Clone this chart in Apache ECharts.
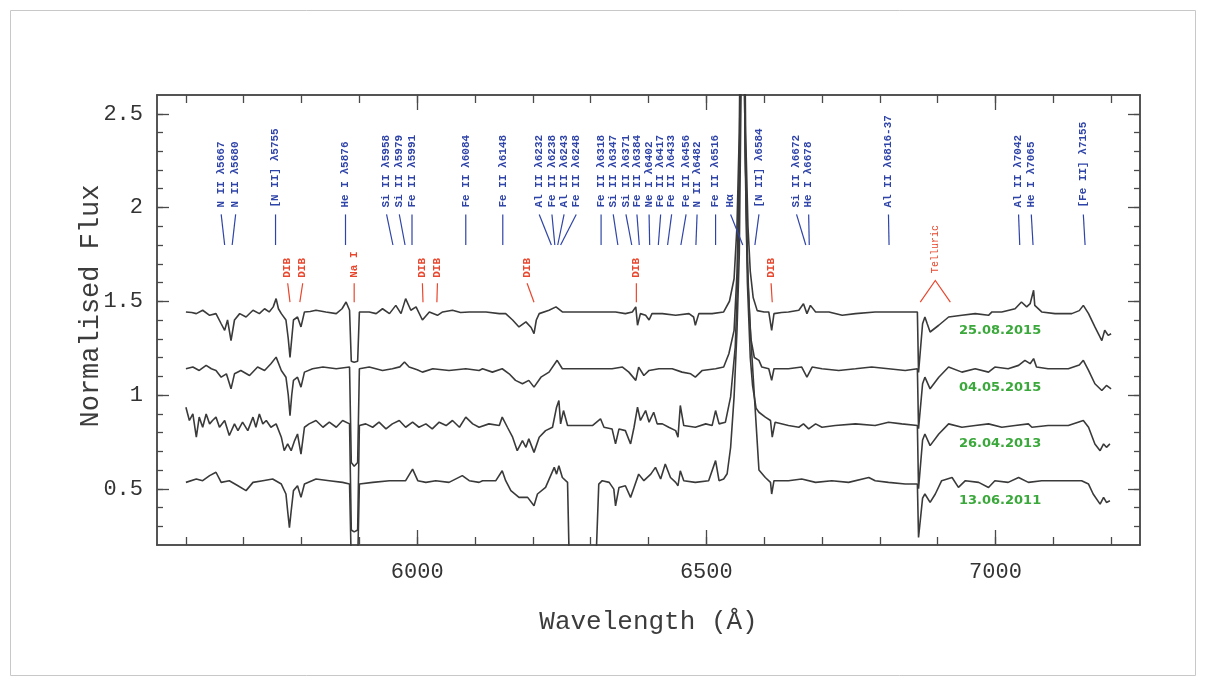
<!DOCTYPE html>
<html>
<head>
<meta charset="utf-8">
<script src="https://cdn.jsdelivr.net/npm/echarts@6/dist/echarts.min.js"></script>
<style>
  html, body { margin: 0; padding: 0; background: #ffffff; }
  #chart { width: 1206px; height: 684px; }
</style>
</head>
<body>
<div id="chart"></div>
<script>
// Optical spectra at four epochs, vertically offset; points are [wavelength (Å), normalised flux]
const epochDates = ['25.08.2015', '04.05.2015', '26.04.2013', '13.06.2011'];

const flux20150825 = [
  [5600,1.443],[5610,1.440],[5618,1.434],[5629,1.452],[5641,1.425],[5652,1.434],[5661,1.380],[5667,1.345],
  [5672,1.400],[5678,1.290],[5684,1.400],[5693,1.434],[5704,1.416],[5716,1.452],[5727,1.434],[5736,1.460],
  [5744,1.443],[5751,1.470],[5756,1.514],[5760,1.460],[5765,1.434],[5773,1.400],[5777,1.300],[5780,1.200],
  [5783,1.300],[5786,1.400],[5793,1.416],[5799,1.363],[5805,1.443],[5815,1.445],[5825,1.452],[5842,1.443],
  [5860,1.434],[5870,1.460],[5877,1.496],[5883,1.452],[5886,1.180],[5891,1.175],[5897,1.180],[5900,1.443],
  [5917,1.443],[5929,1.434],[5940,1.460],[5952,1.434],[5963,1.478],[5972,1.434],[5980,1.514],[5989,1.452],
  [5998,1.470],[6009,1.400],[6021,1.443],[6035,1.425],[6044,1.443],[6061,1.452],[6075,1.440],[6090,1.443],
  [6107,1.443],[6119,1.443],[6142,1.434],[6153,1.434],[6165,1.400],[6176,1.363],[6188,1.390],[6197,1.360],
  [6202,1.327],[6206,1.400],[6211,1.434],[6228,1.452],[6240,1.470],[6251,1.443],[6274,1.443],[6309,1.443],
  [6343,1.443],[6360,1.434],[6372,1.443],[6378,1.470],[6381,1.372],[6386,1.434],[6395,1.425],[6401,1.400],
  [6406,1.434],[6424,1.434],[6447,1.425],[6470,1.434],[6478,1.416],[6481,1.372],[6487,1.434],[6510,1.434],
  [6530,1.443],[6540,1.500],[6548,1.620],[6553,1.900],[6557,2.400],[6560,3.400],[6562.5,6.0],[6565,3.400],
  [6568,2.400],[6572,1.900],[6576,1.660],[6581,1.520],[6588,1.450],[6600,1.443],[6608,1.443],[6613,1.345],
  [6617,1.434],[6630,1.440],[6642,1.443],[6660,1.452],[6668,1.487],[6674,1.434],[6680,1.478],[6689,1.443],
  [6712,1.443],[6735,1.425],[6758,1.434],[6792,1.443],[6827,1.443],[6850,1.443],[6865,1.443],[6867,1.120],
  [6870,1.120],[6874,1.380],[6878,1.416],[6882,1.380],[6887,1.336],[6902,1.372],[6919,1.416],[6942,1.425],
  [6965,1.434],[6988,1.425],[6994,1.443],[7011,1.443],[7034,1.460],[7045,1.496],[7054,1.470],[7060,1.487],
  [7066,1.559],[7068,1.478],[7080,1.443],[7103,1.434],[7132,1.434],[7145,1.450],[7152,1.478],[7161,1.434],
  [7172,1.363],[7184,1.290],[7189,1.345],[7195,1.318],[7200,1.327]
];

const flux20150504 = [
  [5600,1.140],[5612,1.149],[5623,1.131],[5635,1.158],[5644,1.140],[5652,1.131],[5661,1.095],[5670,1.113],
  [5678,1.033],[5684,1.113],[5695,1.131],[5710,1.104],[5724,1.149],[5736,1.131],[5747,1.167],[5756,1.202],
  [5765,1.131],[5773,1.095],[5777,1.000],[5780,0.890],[5783,1.000],[5786,1.078],[5793,1.095],[5799,1.042],
  [5805,1.122],[5819,1.140],[5837,1.149],[5860,1.140],[5883,1.149],[5886,0.640],[5891,0.620],[5897,0.640],
  [5900,1.140],[5917,1.149],[5940,1.131],[5957,1.140],[5970,1.150],[5978,1.176],[5986,1.149],[6000,1.135],
  [6009,1.122],[6027,1.140],[6055,1.131],[6084,1.140],[6107,1.131],[6113,1.140],[6130,1.122],[6147,1.140],
  [6159,1.113],[6170,1.078],[6182,1.060],[6193,1.078],[6202,1.042],[6214,1.095],[6228,1.122],[6242,1.185],
  [6251,1.140],[6274,1.140],[6309,1.140],[6337,1.140],[6355,1.149],[6366,1.122],[6378,1.078],[6383,1.149],
  [6392,1.104],[6401,1.131],[6418,1.140],[6441,1.140],[6458,1.122],[6473,1.113],[6481,1.095],[6493,1.131],
  [6516,1.140],[6530,1.149],[6539,1.220],[6548,1.345],[6553,1.650],[6557,2.200],[6560,3.200],[6562.5,6.0],
  [6565,3.200],[6568,2.200],[6572,1.600],[6577,1.300],[6583,1.200],[6591,1.185],[6596,1.149],[6608,1.140],
  [6613,1.078],[6617,1.140],[6642,1.140],[6665,1.149],[6674,1.095],[6683,1.149],[6700,1.140],[6729,1.131],
  [6758,1.140],[6786,1.149],[6815,1.140],[6844,1.131],[6865,1.140],[6867,0.820],[6870,0.820],[6874,1.060],
  [6878,1.095],[6887,1.033],[6902,1.095],[6919,1.149],[6942,1.122],[6965,1.140],[6988,1.122],[6999,1.149],
  [7022,1.140],[7040,1.158],[7051,1.185],[7060,1.167],[7066,1.194],[7071,1.149],[7091,1.140],[7126,1.140],
  [7145,1.160],[7152,1.185],[7161,1.131],[7172,1.060],[7184,1.024],[7192,1.051],[7200,1.033]
];

const flux20130426 = [
  [5600,0.935],[5606,0.864],[5612,0.899],[5618,0.775],[5623,0.882],[5629,0.828],[5635,0.899],[5641,0.846],
  [5646,0.864],[5652,0.882],[5658,0.828],[5667,0.864],[5675,0.784],[5684,0.846],[5690,0.810],[5698,0.855],
  [5707,0.810],[5716,0.882],[5721,0.828],[5727,0.899],[5733,0.846],[5739,0.864],[5747,0.828],[5756,0.846],
  [5765,0.775],[5770,0.703],[5776,0.739],[5782,0.703],[5788,0.757],[5793,0.792],[5799,0.685],[5805,0.828],
  [5813,0.846],[5825,0.864],[5837,0.828],[5848,0.855],[5860,0.828],[5871,0.864],[5883,0.846],[5886,0.280],
  [5891,0.270],[5897,0.280],[5900,0.837],[5911,0.846],[5923,0.828],[5934,0.855],[5946,0.819],[5957,0.846],
  [5969,0.864],[5980,0.828],[5992,0.855],[6003,0.828],[6015,0.846],[6026,0.819],[6038,0.855],[6050,0.837],
  [6061,0.864],[6073,0.828],[6084,0.882],[6096,0.846],[6107,0.828],[6124,0.846],[6142,0.837],[6147,0.882],
  [6156,0.828],[6165,0.775],[6173,0.703],[6182,0.757],[6188,0.721],[6193,0.766],[6202,0.694],[6211,0.775],
  [6222,0.810],[6234,0.828],[6241,0.935],[6245,0.971],[6248,0.846],[6253,0.917],[6260,0.837],[6274,0.837],
  [6303,0.837],[6317,0.873],[6323,0.828],[6337,0.819],[6343,0.739],[6349,0.819],[6360,0.810],[6369,0.739],
  [6375,0.828],[6381,0.935],[6386,0.864],[6395,0.917],[6401,0.855],[6409,0.908],[6415,0.846],[6424,0.846],
  [6435,0.828],[6447,0.810],[6451,0.775],[6455,0.944],[6461,0.837],[6481,0.828],[6499,0.846],[6510,0.837],
  [6516,0.917],[6522,0.846],[6533,0.855],[6542,0.990],[6550,1.256],[6554,1.600],[6558,2.300],[6561,3.500],
  [6562.5,6.0],[6564,3.500],[6567,2.300],[6571,1.600],[6576,1.200],[6580,1.050],[6586,0.930],[6591,0.908],
  [6602,0.882],[6611,0.864],[6614,0.775],[6619,0.855],[6642,0.837],[6660,0.828],[6668,0.846],[6677,0.819],
  [6689,0.846],[6700,0.828],[6723,0.837],[6758,0.846],[6792,0.837],[6815,0.855],[6838,0.846],[6865,0.837],
  [6867,0.500],[6870,0.500],[6874,0.760],[6878,0.792],[6887,0.730],[6902,0.792],[6919,0.846],[6942,0.828],
  [6965,0.837],[6988,0.846],[7011,0.828],[7034,0.837],[7057,0.846],[7063,0.828],[7091,0.837],[7126,0.837],
  [7152,0.864],[7161,0.828],[7172,0.739],[7181,0.703],[7187,0.739],[7192,0.721],[7198,0.739]
];

const flux20110613 = [
  [5600,0.534],[5618,0.552],[5629,0.543],[5641,0.570],[5652,0.588],[5661,0.534],[5675,0.543],[5690,0.516],
  [5704,0.490],[5716,0.534],[5733,0.543],[5750,0.552],[5765,0.525],[5773,0.472],[5776,0.380],[5779,0.293],
  [5782,0.380],[5786,0.490],[5793,0.516],[5799,0.454],[5805,0.525],[5825,0.552],[5848,0.543],[5871,0.534],
  [5883,0.525],[5886,0.100],[5897,0.100],[5900,0.525],[5923,0.534],[5952,0.543],[5980,0.543],[5992,0.605],
  [6001,0.543],[6015,0.534],[6032,0.543],[6055,0.534],[6078,0.570],[6090,0.543],[6107,0.534],[6113,0.543],
  [6136,0.543],[6147,0.596],[6153,0.543],[6162,0.490],[6176,0.454],[6191,0.454],[6202,0.409],[6208,0.472],
  [6222,0.507],[6237,0.614],[6241,0.578],[6245,0.623],[6251,0.560],[6260,0.534],[6263,0.100],[6265,0.000],
  [6306,0.000],[6309,0.100],[6314,0.525],[6320,0.543],[6332,0.534],[6340,0.498],[6343,0.409],[6349,0.507],
  [6360,0.516],[6369,0.454],[6375,0.507],[6383,0.578],[6392,0.543],[6404,0.578],[6412,0.614],[6421,0.552],
  [6429,0.632],[6438,0.560],[6447,0.534],[6451,0.516],[6455,0.596],[6461,0.543],[6481,0.534],[6504,0.543],
  [6516,0.650],[6522,0.543],[6530,0.552],[6536,0.580],[6542,0.720],[6548,0.990],[6553,1.340],[6557,1.750],
  [6560,2.600],[6563,6.0],[6566,2.600],[6570,1.800],[6575,1.400],[6579,1.200],[6585,0.900],[6591,0.600],
  [6602,0.560],[6611,0.534],[6613,0.472],[6617,0.543],[6642,0.543],[6665,0.552],[6689,0.534],[6717,0.543],
  [6746,0.534],[6781,0.560],[6792,0.543],[6815,0.534],[6844,0.525],[6865,0.525],[6867,0.240],[6870,0.240],
  [6874,0.450],[6878,0.472],[6887,0.427],[6896,0.472],[6907,0.543],[6925,0.560],[6936,0.507],[6948,0.543],
  [6971,0.534],[6988,0.507],[6999,0.543],[7022,0.534],[7040,0.560],[7057,0.534],[7080,0.543],[7115,0.543],
  [7149,0.543],[7161,0.525],[7169,0.472],[7181,0.418],[7187,0.454],[7192,0.427],[7198,0.436]
];

// Anchor of each epoch's date tag [Å, flux]
const epochLabelPos = [[7008, 1.345], [7008, 1.040], [7008, 0.741], [7008, 0.436]];

// Stellar line identifications: label, label column (Å), rest wavelength (Å)
const lineIdText = [
  'N II λ5667', 'N II λ5680', '[N II] λ5755', 'He I λ5876', 'Si II λ5958', 'Si II λ5979', 'Fe II λ5991',
  'Fe II λ6084', 'Fe II λ6148', 'Al II λ6232', 'Fe II λ6238', 'Al II λ6243', 'Fe II λ6248',
  'Fe II λ6318', 'Si II λ6347', 'Si II λ6371', 'Fe II λ6384', 'Ne I λ6402', 'Fe II λ6417', 'Fe II λ6433',
  'Fe II λ6456', 'N II λ6482', 'Fe II λ6516', 'Hα', '[N II] λ6584', 'Si II λ6672', 'He I λ6678',
  'Al II λ6816-37', 'Al II λ7042', 'He I λ7065', '[Fe II] λ7155'
];
const lineIdLabelAt = [
  5661, 5686, 5755, 5876, 5947, 5969, 5991,
  6084, 6148, 6211, 6233, 6254, 6275,
  6318, 6339, 6361, 6380, 6401, 6421, 6440,
  6465, 6484, 6516, 6542, 6591, 6656, 6677,
  6815, 7040, 7062, 7152
];
const lineIdRest = [
  5667, 5680, 5755, 5876, 5958, 5979, 5991,
  6084, 6148, 6232, 6238, 6243, 6248,
  6318, 6347, 6371, 6384, 6402, 6417, 6433,
  6456, 6482, 6516, 6563, 6584, 6672, 6678,
  6816, 7042, 7065, 7155
];

// Interstellar and telluric features: label, label column (Å), feature (Å)
const ismText = ['DIB', 'DIB', 'Na I', 'DIB', 'DIB', 'DIB', 'DIB', 'DIB', 'Telluric'];
const ismLabelAt = [5776, 5802, 5891, 6009, 6035, 6190, 6379, 6612, 6896];
const ismFeature = [5780, 5797, 5891, 6010, 6034, 6202, 6379, 6614, 6896];

// Axis ticks
const xTickMinor = [5600, 5700, 5800, 5900, 6000, 6100, 6200, 6300, 6400, 6500, 6600, 6700, 6800, 6900, 7000, 7100, 7200];
const xTickMajor = [6000, 6500, 7000];
const yTickMinor = [0.3, 0.4, 0.5, 0.6, 0.7, 0.8, 0.9, 1.0, 1.1, 1.2, 1.3, 1.4, 1.5, 1.6, 1.7, 1.8, 1.9, 2.0, 2.1, 2.2, 2.3, 2.4, 2.5];
const yTickMajor = [0.5, 1, 1.5, 2, 2.5];

const FRAME = '#4a4a4a';
const TRACE = '#3a3a3a';
const BLUE = '#2f44a8';
const RED = '#e8472e';
const GREEN = '#3aa83a';
const AXIS_FONT = '"Liberation Mono", "DejaVu Sans Mono", monospace';

// Levels (in flux units) of the annotation rows above the spectra
const ID_TEXT_BASE = 2.0, ID_TICK_TOP = 1.963, ID_TICK_BOTTOM = 1.80;
const ISM_TEXT_BASE = 1.625, ISM_TICK_TOP = 1.596, ISM_TICK_BOTTOM = 1.495;
const CARET_HALF = 26;

const chart = echarts.init(document.getElementById('chart'), null, { renderer: 'canvas' });

function xAxisDef(position, ticks, len, withLabels) {
  return {
    type: 'value', min: 5550, max: 7250, position: position, gridIndex: 0,
    axisLine: { show: true, onZero: false, lineStyle: { color: FRAME, width: 1.5 } },
    axisTick: { show: true, inside: true, length: len, customValues: ticks, lineStyle: { color: FRAME, width: 1.3 } },
    axisLabel: withLabels
      ? { show: true, customValues: xTickMajor, margin: 16, color: '#333333', fontSize: 22, fontFamily: AXIS_FONT,
          formatter: function (v) { return String(v); } }
      : { show: false },
    splitLine: { show: false }
  };
}
function yAxisDef(position, ticks, len, withLabels) {
  return {
    type: 'value', min: 0.2, max: 2.6, position: position, gridIndex: 0,
    axisLine: { show: true, onZero: false, lineStyle: { color: FRAME, width: 1.5 } },
    axisTick: { show: true, inside: true, length: len, customValues: ticks, lineStyle: { color: FRAME, width: 1.3 } },
    axisLabel: withLabels
      ? { show: true, customValues: yTickMajor, margin: 14, color: '#333333', fontSize: 22, fontFamily: AXIS_FONT,
          formatter: function (v) { return String(v); } }
      : { show: false },
    splitLine: { show: false }
  };
}

const xAxes = [
  Object.assign(xAxisDef('bottom', xTickMinor, 8, true), {
    name: 'Wavelength (Å)', nameLocation: 'middle', nameGap: 64, nameMoveOverlap: false,
    nameTextStyle: { fontFamily: AXIS_FONT, fontSize: 26, color: '#3c3c3c' }
  }),
  xAxisDef('bottom', xTickMajor, 15, false),
  xAxisDef('top', xTickMinor, 8, false),
  xAxisDef('top', xTickMajor, 15, false)
];
const yAxes = [
  Object.assign(yAxisDef('left', yTickMinor, 6, true), {
    name: 'Normalised Flux', nameLocation: 'middle', nameGap: 53, nameRotate: 90, nameMoveOverlap: false,
    nameTextStyle: { fontFamily: AXIS_FONT, fontSize: 27, color: '#3c3c3c', padding: [0, 0, 0, 28] }
  }),
  yAxisDef('left', yTickMajor, 12, false),
  yAxisDef('right', yTickMinor, 6, false),
  yAxisDef('right', yTickMajor, 12, false)
];

const spectra = [flux20150825, flux20150504, flux20130426, flux20110613];

const spectrumSeries = spectra.map((pts, k) => ({
  name: epochDates[k],
  type: 'line',
  data: pts,
  showSymbol: false,
  clip: true,
  lineStyle: { color: TRACE, width: 1.6 },
  z: 3
}));

const lineIdSeries = {
  type: 'custom',
  clip: false,
  z: 4,
  data: lineIdLabelAt.map((at, i) => [at, lineIdRest[i]]),
  renderItem: function (params, api) {
    const i = params.dataIndex;
    const at = api.value(0), rest = api.value(1);
    const pText = api.coord([at, ID_TEXT_BASE]);
    const pTop = api.coord([at, ID_TICK_TOP]);
    const pBot = api.coord([rest, ID_TICK_BOTTOM]);
    return {
      type: 'group',
      children: [
        { type: 'line', shape: { x1: pTop[0], y1: pTop[1], x2: pBot[0], y2: pBot[1] },
          style: { stroke: BLUE, lineWidth: 1.2 } },
        { type: 'text', x: pText[0], y: pText[1], rotation: Math.PI / 2,
          style: { text: lineIdText[i], x: 0, y: 0, align: 'left', verticalAlign: 'middle',
                   fill: BLUE, font: 'bold 11px "Liberation Mono", "DejaVu Sans Mono", monospace' } }
      ]
    };
  }
};

const ismSeries = {
  type: 'custom',
  clip: false,
  z: 4,
  data: ismLabelAt.map((at, i) => [at, ismFeature[i]]),
  renderItem: function (params, api) {
    const i = params.dataIndex;
    const at = api.value(0), feat = api.value(1);
    const isTelluric = ismText[i] === 'Telluric';
    const pText = api.coord([at, isTelluric ? 1.65 : ISM_TEXT_BASE]);
    const children = [
      { type: 'text', x: pText[0], y: pText[1], rotation: Math.PI / 2,
        style: { text: ismText[i], x: 0, y: 0, align: 'left', verticalAlign: 'middle',
                 fill: RED, font: (isTelluric ? '10px' : 'bold 11px') + ' "Liberation Mono", "DejaVu Sans Mono", monospace' } }
    ];
    if (isTelluric) {
      const a = api.coord([feat - CARET_HALF, ISM_TICK_BOTTOM]);
      const b = api.coord([feat, ISM_TICK_TOP + 0.015]);
      const c = api.coord([feat + CARET_HALF, ISM_TICK_BOTTOM]);
      children.push({ type: 'polyline', shape: { points: [a, b, c] },
        style: { stroke: RED, lineWidth: 1.2, fill: null } });
    } else {
      const pTop = api.coord([at, ISM_TICK_TOP]);
      const pBot = api.coord([feat, ISM_TICK_BOTTOM]);
      children.push({ type: 'line', shape: { x1: pTop[0], y1: pTop[1], x2: pBot[0], y2: pBot[1] },
        style: { stroke: RED, lineWidth: 1.2 } });
    }
    return { type: 'group', children: children };
  }
};

const epochLabelSeries = {
  type: 'custom',
  clip: false,
  z: 5,
  data: epochLabelPos,
  renderItem: function (params, api) {
    const p = api.coord([api.value(0), api.value(1)]);
    return {
      type: 'text', x: p[0], y: p[1],
      style: { text: epochDates[params.dataIndex], align: 'center', verticalAlign: 'middle',
               fill: GREEN, font: 'bold 13px "DejaVu Sans", sans-serif' }
    };
  }
};

chart.setOption({
  animation: false,
  backgroundColor: '#ffffff',
  grid: { left: 157, right: 66, top: 95, bottom: 139, containLabel: false },
  xAxis: xAxes,
  yAxis: yAxes,
  series: spectrumSeries.concat([lineIdSeries, ismSeries, epochLabelSeries]),
  graphic: [
    { type: 'rect', silent: true, z: -1,
      shape: { x: 10.5, y: 10.5, width: 1185, height: 665 },
      style: { fill: null, stroke: '#c8c8c8', lineWidth: 1 } }
  ]
});
</script>
</body>
</html>
